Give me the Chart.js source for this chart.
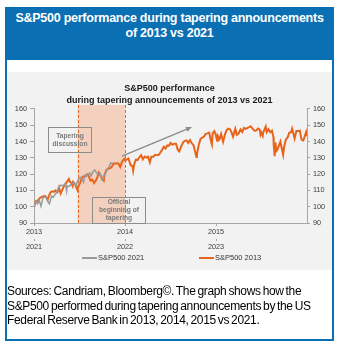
<!DOCTYPE html>
<html><head><meta charset="utf-8">
<script src="https://cdn.jsdelivr.net/npm/chart.js@4/dist/chart.umd.min.js"></script>
<style>
html,body{margin:0;padding:0;background:#fff;width:344px;height:347px;overflow:hidden;font-family:"Liberation Sans",Arial,sans-serif}
#hdr{position:absolute;left:5px;top:7px;width:329px;height:53px;background:#0b6fb3;color:#fff;font-weight:bold;font-size:12.5px;line-height:15px;text-align:center;padding-top:4px;box-sizing:border-box;letter-spacing:-0.25px}
#box{position:absolute;left:5px;top:60px;width:329px;height:281px;border:2px solid #0b6fb3;border-top:none;box-sizing:border-box}
#panel{position:absolute;left:7px;top:72px;width:325px;height:198px;background:#f2f2f2}
#cap{position:absolute;left:7px;top:284px;width:325px;font-size:12px;line-height:14.5px;color:#000;letter-spacing:-0.35px;word-spacing:-1px}
.lg{position:absolute;top:253px;font-size:7.5px;color:#333;line-height10px;white-space:nowrap}
.lg i{display:inline-block;vertical-align:middle;width:15px;margin-right:1px;margin-top:-1px}
</style></head>
<body>
<div id="hdr">S&amp;P500 performance during tapering announcements<br>of 2013 vs 2021</div>
<div id="box"></div>
<div id="panel"><canvas id="c" width="325" height="198"></canvas></div>
<div class="lg" style="left:82px"><i style="border-top:2px solid #9a9a9a"></i>S&amp;P500 2021</div>
<div class="lg" style="left:199px"><i style="border-top:2px solid #e8641b"></i>S&amp;P500 2013</div>
<div id="cap">Sources: Candriam, Bloomberg©. The graph shows how the S&amp;P500 performed during tapering announcements by the US Federal Reserve Bank in 2013, 2014, 2015 vs 2021.</div>
<script>
// ---- data ----
const chartTitle = ['S&P500 performance', 'during tapering announcements of 2013 vs 2021'];
const yearTicks = [0, 1, 2];
const labels2013 = ['2013', '2014', '2015'];
const labels2021 = ['2021', '2022', '2023'];
const base2013 = 1426.19;
const base2021 = 3700.65;
const dates2013 = ['2013-01-02','2013-01-11','2013-01-18','2013-01-25','2013-02-01','2013-02-08','2013-02-15','2013-02-25','2013-03-01','2013-03-08','2013-03-15','2013-03-22','2013-03-28','2013-04-05','2013-04-11','2013-04-18','2013-04-26','2013-05-03','2013-05-10','2013-05-21','2013-05-24','2013-05-31','2013-06-05','2013-06-07','2013-06-14','2013-06-24','2013-06-28','2013-07-05','2013-07-12','2013-07-19','2013-07-26','2013-08-02','2013-08-09','2013-08-16','2013-08-23','2013-08-30','2013-09-06','2013-09-13','2013-09-18','2013-09-27','2013-10-08','2013-10-11','2013-10-18','2013-10-25','2013-11-01','2013-11-08','2013-11-15','2013-11-22','2013-11-29','2013-12-06','2013-12-13','2013-12-20','2013-12-27','2013-12-31',
'2014-01-03','2014-01-10','2014-01-15','2014-01-24','2014-01-31','2014-02-03','2014-02-07','2014-02-14','2014-02-21','2014-02-28','2014-03-07','2014-03-14','2014-03-21','2014-03-28','2014-04-04','2014-04-11','2014-04-17','2014-04-25','2014-05-02','2014-05-09','2014-05-16','2014-05-23','2014-05-30','2014-06-06','2014-06-13','2014-06-20','2014-06-27','2014-07-03','2014-07-11','2014-07-18','2014-07-25','2014-08-01','2014-08-07','2014-08-15','2014-08-22','2014-08-29','2014-09-05','2014-09-12','2014-09-19','2014-09-26','2014-10-03','2014-10-10','2014-10-15','2014-10-17','2014-10-24','2014-10-31','2014-11-07','2014-11-14','2014-11-21','2014-11-28','2014-12-05','2014-12-12','2014-12-16','2014-12-19','2014-12-26','2014-12-31',
'2015-01-06','2015-01-09','2015-01-16','2015-01-22','2015-01-30','2015-02-06','2015-02-13','2015-02-20','2015-02-27','2015-03-06','2015-03-11','2015-03-20','2015-03-26','2015-04-02','2015-04-10','2015-04-17','2015-04-24','2015-05-01','2015-05-08','2015-05-15','2015-05-21','2015-05-29','2015-06-05','2015-06-12','2015-06-19','2015-06-26','2015-06-29','2015-07-02','2015-07-08','2015-07-10','2015-07-20','2015-07-24','2015-07-31','2015-08-07','2015-08-14','2015-08-20','2015-08-21','2015-08-25','2015-08-28','2015-09-01','2015-09-04','2015-09-11','2015-09-17','2015-09-22','2015-09-28','2015-10-02','2015-10-09','2015-10-16','2015-10-23','2015-10-30','2015-11-03','2015-11-13','2015-11-20','2015-11-27','2015-12-04','2015-12-11','2015-12-18','2015-12-29','2015-12-31'];
const closes2013 = [1462,1472,1486,1503,1513,1518,1520,1488,1518,1551,1561,1556,1569,1553,1593,1541,1582,1614,1633,1669,1650,1631,1608,1643,1626,1573,1606,1632,1680,1692,1691,1710,1691,1655,1664,1633,1655,1688,1725,1692,1656,1703,1745,1759,1762,1771,1798,1804,1806,1805,1775,1818,1841,1848,
1831,1842,1848,1790,1783,1742,1797,1838,1836,1859,1878,1841,1866,1857,1865,1815,1864,1863,1881,1878,1878,1900,1924,1950,1937,1963,1961,1985,1968,1978,1978,1925,1910,1955,1988,2003,2007,1985,2010,1982,1967,1906,1862,1886,1964,2018,2032,2039,2064,2068,2075,2003,1972,2071,2088,2059,
2003,2045,2019,2063,1995,2055,2097,2110,2104,2071,2040,2108,2056,2067,2102,2081,2117,2108,2116,2123,2131,2107,2092,2094,2110,2101,2058,2076,2046,2077,2129,2079,2104,2078,2092,2036,1971,1868,1989,1914,1921,1961,1996,1943,1881,1951,2015,2033,2075,2079,2110,2023,2089,2090,2092,2012,2006,2078,2044];
const dates2021 = ['2021-01-04','2021-01-08','2021-01-15','2021-01-22','2021-01-29','2021-02-05','2021-02-12','2021-02-19','2021-02-26','2021-03-04','2021-03-12','2021-03-19','2021-03-26','2021-04-01','2021-04-09','2021-04-16','2021-04-23','2021-04-30','2021-05-07','2021-05-12','2021-05-14','2021-05-21','2021-05-28','2021-06-04','2021-06-11','2021-06-18','2021-06-25','2021-07-02','2021-07-09','2021-07-19','2021-07-23','2021-07-30','2021-08-06','2021-08-13','2021-08-18','2021-08-27','2021-09-02','2021-09-10','2021-09-17','2021-09-24','2021-09-30','2021-10-04','2021-10-08','2021-10-15','2021-10-22','2021-10-29','2021-11-05','2021-11-12','2021-11-19'];
const closes2021 = [3700,3824,3768,3841,3714,3886,3934,3906,3811,3768,3943,3913,3975,4020,4129,4185,4180,4181,4233,4063,4174,4156,4204,4230,4247,4166,4281,4352,4370,4259,4412,4395,4437,4468,4400,4509,4537,4459,4433,4455,4308,4300,4391,4471,4545,4605,4697,4683,4698];
const seriesNames = ['S&P500 2021', 'S&P500 2013'];

// ---- helpers ----
const DAY = 864e5;
function yearOffset(d, y0){ return (Date.parse(d) - Date.UTC(y0,0,1)) / (365.25*DAY); }
function toPoints(dates, closes, y0, base){ return dates.map((d,i)=>({x:yearOffset(d,y0), y:closes[i]/base*100})); }

const notes = {
  band: {x0:0.48, x1:1.0, yTop:162.5},
  boxes: [
    {x0:0.155, x1:0.625, y0:133.6, y1:148.9, lines:['Tapering','discussion']},
    {x0:0.637, x1:1.22, y0:90, y1:106, lines:['Official','beginning of','tapering']}
  ],
  arrow: {x0:0.967, y0:131.1, x1:1.736, y1:148.9}
};

const overlay = {
  id:'overlay',
  beforeDatasetsDraw(chart){
    const {ctx, chartArea:a, scales:{x,y}} = chart;
    const b = notes.band;
    const l = x.getPixelForValue(b.x0), r = x.getPixelForValue(b.x1), t = y.getPixelForValue(b.yTop);
    ctx.save();
    ctx.fillStyle = '#f4d0be';
    ctx.fillRect(l, t, r-l, a.bottom-t);
    ctx.strokeStyle = '#e8641b'; ctx.lineWidth = 1; ctx.setLineDash([3,2]);
    [l,r].forEach(px=>{ctx.beginPath();ctx.moveTo(Math.round(px)+0.5,t);ctx.lineTo(Math.round(px)+0.5,a.bottom);ctx.stroke();});
    ctx.restore();
  },
  afterDatasetsDraw(chart){
    const {ctx, scales:{x,y}} = chart;
    ctx.save();
    notes.boxes.forEach(bx=>{
      const l=Math.round(x.getPixelForValue(bx.x0))+0.5, r=Math.round(x.getPixelForValue(bx.x1))+0.5;
      const t=Math.round(y.getPixelForValue(bx.y1))+0.5, bt=Math.round(y.getPixelForValue(bx.y0))+0.5;
      ctx.strokeStyle='#8c8c8c'; ctx.lineWidth=1; ctx.setLineDash([]);
      ctx.strokeRect(l,t,r-l,bt-t);
      ctx.fillStyle='#7a7a7a'; ctx.font='bold 6.7px "Liberation Sans", Arial, sans-serif';
      ctx.textAlign='center'; ctx.textBaseline='middle';
      const lh=8, cy=(t+bt)/2, n=bx.lines.length;
      bx.lines.forEach((s,i)=>ctx.fillText(s,(l+r)/2, cy+(i-(n-1)/2)*lh));
    });
    const ar=notes.arrow;
    const x0=x.getPixelForValue(ar.x0), y0=y.getPixelForValue(ar.y0), x1=x.getPixelForValue(ar.x1), y1=y.getPixelForValue(ar.y1);
    const ang=Math.atan2(y1-y0,x1-x0), hl=6, hw=2.5;
    ctx.strokeStyle='#8a8a8a'; ctx.fillStyle='#8a8a8a'; ctx.lineWidth=1.3;
    ctx.beginPath(); ctx.moveTo(x0,y0); ctx.lineTo(x1-Math.cos(ang)*hl*0.8, y1-Math.sin(ang)*hl*0.8); ctx.stroke();
    ctx.beginPath(); ctx.moveTo(x1,y1);
    ctx.lineTo(x1-Math.cos(ang)*hl+Math.sin(ang)*hw, y1-Math.sin(ang)*hl-Math.cos(ang)*hw);
    ctx.lineTo(x1-Math.cos(ang)*hl-Math.sin(ang)*hw, y1-Math.sin(ang)*hl+Math.cos(ang)*hw);
    ctx.closePath(); ctx.fill();
    ctx.restore();
  }
};

const tickFont = {family:'"Liberation Sans", Arial, sans-serif', size:7.3};
const axisColor = '#a6a6a6';
const tickColor = '#404040';

new Chart(document.getElementById('c'), {
  type:'line',
  data:{datasets:[
    {label:seriesNames[0], data:toPoints(dates2021, closes2021, 2021, base2021), borderColor:'#9a9a9a', borderWidth:1.5, pointRadius:0, tension:0, xAxisID:'x', yAxisID:'y'},
    {label:seriesNames[1], data:toPoints(dates2013, closes2013, 2013, base2013), borderColor:'#e8641b', borderWidth:2, pointRadius:0, tension:0, xAxisID:'x', yAxisID:'y'}
  ]},
  options:{
    responsive:false, animation:false, parsing:false, normalized:true,
    layout:{padding:{left:0,right:0,top:0,bottom:15}},
    plugins:{
      legend:{display:false}, tooltip:{enabled:false},
      title:{display:true, text:chartTitle, color:'#1a1a1a', font:{family:'"Liberation Sans", Arial, sans-serif', size:9, weight:'bold', lineHeight:1.333}, padding:{top:11,bottom:2}}
    },
    scales:{
      x:{type:'linear', position:'bottom', min:0, max:3,
        afterBuildTicks:s=>{s.ticks=yearTicks.map(v=>({value:v}));},
        afterFit:s=>{s.height=16;},
        ticks:{callback:(v,i)=>labels2013[i], font:tickFont, color:tickColor, padding:2, maxRotation:0, autoSkip:false},
        grid:{drawOnChartArea:false, drawTicks:true, tickLength:3, color:axisColor},
        border:{color:axisColor}},
      x2:{type:'linear', position:'bottom', min:0, max:3,
        afterBuildTicks:s=>{s.ticks=yearTicks.map(v=>({value:v}));},
        afterFit:s=>{s.height=16;},
        ticks:{callback:(v,i)=>labels2021[i], font:tickFont, color:tickColor, padding:2, maxRotation:0, autoSkip:false},
        grid:{drawOnChartArea:false, drawTicks:true, tickLength:2, color:axisColor},
        border:{display:false}},
      y:{type:'linear', position:'left', min:90, max:160,
        afterFit:s=>{s.width=27;},
        ticks:{stepSize:10, font:tickFont, color:tickColor, padding:3},
        grid:{drawOnChartArea:false, drawTicks:true, tickLength:4, color:axisColor},
        border:{color:axisColor}},
      y2:{type:'linear', position:'right', min:90, max:160,
        afterFit:s=>{s.width=25;},
        ticks:{stepSize:10, font:tickFont, color:tickColor, padding:3},
        grid:{drawOnChartArea:false, drawTicks:true, tickLength:3, color:axisColor},
        border:{color:axisColor}}
    }
  },
  plugins:[overlay]
});
</script>
</body></html>
